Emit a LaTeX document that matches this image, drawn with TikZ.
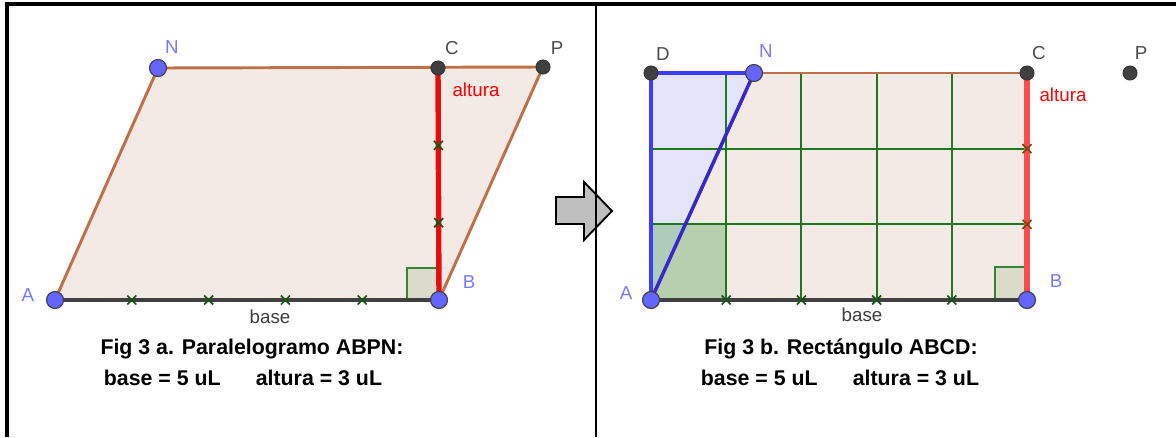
\documentclass[tikz,border=0pt]{standalone}
\usepackage{fontspec}
\setmainfont{Liberation Sans}
\usetikzlibrary{calc}
\definecolor{cafe}{RGB}{190,112,72}
\definecolor{relleno}{RGB}{244,234,229}
\definecolor{verde}{RGB}{30,120,30}
\definecolor{azulpt}{RGB}{100,100,255}
\definecolor{azullin}{RGB}{60,60,255}
\definecolor{azulosc}{RGB}{55,40,200}
\definecolor{azulfill}{RGB}{228,228,250}
\definecolor{grisosc}{RGB}{64,64,64}
\definecolor{etqazul}{RGB}{120,120,255}
\definecolor{etqgris}{RGB}{75,75,75}
\definecolor{cuadro}{RGB}{218,219,202}
\tikzset{
  ptazul/.style={circle, fill=azulpt, draw=grisosc, line width=1pt, minimum size=14.5pt, inner sep=0pt},
  ptgris/.style={circle, fill=grisosc, draw=black!80, line width=0.8pt, minimum size=12pt, inner sep=0pt},
  etiq/.style={font=\fontsize{16}{19}\selectfont},
  titulo/.style={font=\fontsize{18.2}{21}\selectfont\bfseries, text=black},
  marca/.style={verde!70!black, line width=1.4pt},
  rejilla/.style={verde, line width=1.7pt},
  angrecto/.style={draw=verde!90, fill=cuadro, line width=1.9pt}
}
\begin{document}
\begin{tikzpicture}[x=0.03cm, y=-0.03cm]
  \useasboundingbox (0,0) rectangle (1176,437);

  % Flecha entre las figuras
  \draw[line width=1.6pt, fill=gray!50] (556,197) -- (584,197) -- (584,182) -- (612,211)
    -- (584,240) -- (584,224) -- (556,224) -- cycle;

  % Marco
  \draw[line width=2.6pt] (7,437) -- (7,4) -- (1176,4);
  \draw[line width=1.8pt] (596,4) -- (596,437);

  % ---------- Fig 3 a: paralelogramo ABPN ----------
  \coordinate (A) at (55,300);
  \coordinate (B) at (439,300);
  \coordinate (C) at (438,68);
  \coordinate (N) at (158,68);
  \coordinate (P) at (543,67);
  \fill[relleno] (A) -- (B) -- (P) -- (N) -- cycle;
  \draw[cafe, line width=2.5pt] (A) -- (N) -- (P) -- (B);
  % angulo recto en B
  \draw[angrecto] (407,300) -- (407,268) -- (439,268) -- (439,300);
  % base y altura
  \draw[grisosc, line width=4pt] (A) -- (B);
  \draw[red!80!black!90, line width=4.6pt] (C) -- (B);
  \draw[red, line width=1.8pt] (C) -- (B);
  \foreach \t in {0.2,0.4,0.6,0.8}
    \draw[marca] ($(A)!\t!(B)$) ++(-4.5,-4.5) -- ++(9,9) ++(0,-9) -- ++(-9,9);
  \foreach \t in {0.3333,0.6667}
    \draw[marca] ($(C)!\t!(B)$) ++(-4.5,-4.5) -- ++(9,9) ++(0,-9) -- ++(-9,9);
  % puntos
  \node[ptazul] (pA) at (A) {};
  \node[ptazul] (pB) at (B) {};
  \node[ptazul] (pN) at (N) {};
  \node[ptgris] (pC) at (C) {};
  \node[ptgris] (pP) at (P) {};
  % etiquetas
  \node[etiq, text=etqazul] (lA) at (28,295) {A};
  \node[etiq, text=etqazul] (lB) at (469,282) {B};
  \node[etiq, text=etqazul] (lN) at (172,47) {N};
  \node[etiq, text=etqgris] (lC) at (452,48) {C};
  \node[etiq, text=etqgris] (lP) at (557,48) {P};
  \node[etiq, text=red] (lalt) at (476,90) {altura};
  \node[etiq, text=etqgris!80!black] (lbase) at (270,317) {base};
  \node[titulo] (tit1) at (252,349) {Fig 3 a. Paralelogramo ABPN:};
  \node[titulo] (med1) at (243,378) {base = 5 uL\hspace{30pt}altura = 3 uL};

  % ---------- Fig 3 b: rectangulo ABCD ----------
  \coordinate (A2) at (651,300);
  \coordinate (B2) at (1027,300);
  \coordinate (C2) at (1027,73);
  \coordinate (D2) at (651,73);
  \coordinate (N2) at (754,73);
  \coordinate (P2) at (1130,73);
  \fill[relleno] (A2) -- (B2) -- (C2) -- (N2) -- cycle;
  \fill[azulfill] (A2) -- (N2) -- (D2) -- cycle;
  \fill[green!45!black!60, opacity=0.42] (A2) rectangle ($(A2)!0.2!(B2) + (0,-75.7)$);
  % cuadricula
  \foreach \t in {0.2,0.4,0.6,0.8}
    \draw[rejilla] ($(D2)!\t!(C2)$) -- ($(A2)!\t!(B2)$);
  \foreach \t in {0.3333,0.6667}
    \draw[rejilla] ($(D2)!\t!(A2)$) -- ($(C2)!\t!(B2)$);
  % angulo recto en B
  \draw[angrecto] (995,300) -- (995,267) -- (1027,267) -- (1027,300);
  % lados
  \draw[cafe, line width=2.5pt] (N2) -- (C2);
  \draw[azullin, line width=2.6pt] (A2) -- (D2) -- (N2);
  \draw[azulosc, line width=3pt] (A2) -- (N2);
  \draw[grisosc, line width=4pt] (A2) -- (B2);
  \draw[red!70, line width=4.6pt] (C2) -- (B2);
  \foreach \t in {0.2,0.4,0.6,0.8}
    \draw[marca] ($(A2)!\t!(B2)$) ++(-4.5,-4.5) -- ++(9,9) ++(0,-9) -- ++(-9,9);
  \foreach \t in {0.3333,0.6667}
    \draw[marca, red!40!verde] ($(C2)!\t!(B2)$) ++(-4.5,-4.5) -- ++(9,9) ++(0,-9) -- ++(-9,9);
  % puntos
  \node[ptazul] (pA2) at (A2) {};
  \node[ptazul] (pB2) at (B2) {};
  \node[ptazul] (pN2) at (N2) {};
  \node[ptgris] (pC2) at (C2) {};
  \node[ptgris] (pD2) at (D2) {};
  \node[ptgris] (pP2) at (P2) {};
  % etiquetas
  \node[etiq, text=etqazul] (lA2) at (626,293) {A};
  \node[etiq, text=etqazul] (lB2) at (1056,281) {B};
  \node[etiq, text=etqazul] (lN2) at (766,51) {N};
  \node[etiq, text=etqgris] (lD2) at (663,54) {D};
  \node[etiq, text=etqgris] (lC2) at (1039,53) {C};
  \node[etiq, text=etqgris] (lP2) at (1141,53) {P};
  \node[etiq, text=red] (lalt2) at (1063,95) {altura};
  \node[etiq, text=etqgris!80!black] (lbase2) at (862,315) {base};
  \node[titulo] (tit2) at (841,349) {Fig 3 b. Rectángulo ABCD:};
  \node[titulo] (med2) at (840,378) {base = 5 uL\hspace{30pt}altura = 3 uL};
\end{tikzpicture}
\end{document}
